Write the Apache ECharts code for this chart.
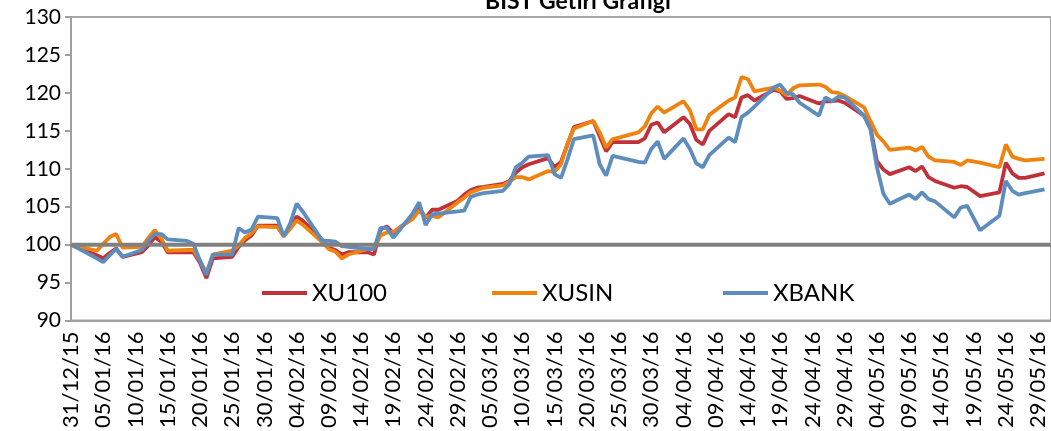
<!DOCTYPE html>
<html>
<head>
<meta charset="utf-8">
<script src="https://cdn.jsdelivr.net/npm/echarts@6/dist/echarts.min.js"></script>
<style>html,body{margin:0;padding:0;background:#fff;}#c{width:1051px;height:431px;}</style>
</head>
<body>
<div id="c"></div>
<script>
const titleText = 'BIST Getiri Grafiği';
const seriesNames = ['XU100', 'XUSIN', 'XBANK'];
const tradeDates = ['31/12/15',
'04/01/16','05/01/16','06/01/16','07/01/16','08/01/16',
'11/01/16','12/01/16','13/01/16','14/01/16','15/01/16',
'18/01/16','19/01/16','20/01/16','21/01/16','22/01/16',
'25/01/16','26/01/16','27/01/16','28/01/16','29/01/16',
'01/02/16','02/02/16','03/02/16','04/02/16','05/02/16',
'08/02/16','09/02/16','10/02/16','11/02/16','12/02/16',
'15/02/16','16/02/16','17/02/16','18/02/16','19/02/16',
'22/02/16','23/02/16','24/02/16','25/02/16','26/02/16',
'29/02/16','01/03/16','02/03/16','03/03/16','04/03/16',
'07/03/16','08/03/16','09/03/16','10/03/16','11/03/16',
'14/03/16','15/03/16','16/03/16','17/03/16','18/03/16',
'21/03/16','22/03/16','23/03/16','24/03/16','25/03/16',
'28/03/16','29/03/16','30/03/16','31/03/16','01/04/16',
'04/04/16','05/04/16','06/04/16','07/04/16','08/04/16',
'11/04/16','12/04/16','13/04/16','14/04/16','15/04/16',
'18/04/16','19/04/16','20/04/16','21/04/16','22/04/16',
'25/04/16','26/04/16','27/04/16','28/04/16','29/04/16',
'02/05/16','03/05/16','04/05/16','05/05/16','06/05/16',
'09/05/16','10/05/16','11/05/16','12/05/16','13/05/16',
'16/05/16','17/05/16','18/05/16','20/05/16',
'23/05/16','24/05/16','25/05/16','26/05/16','27/05/16',
'30/05/16'];

const xu100 = [100,
98.6, 98.2, 98.9, 99.5, 98.4,
99.0, 99.9, 101.0, 100.4, 99.0,
99.0, 99.0, 97.6, 95.6, 98.2,
98.4, 99.7, 100.6, 101.2, 102.5,
102.5, 101.1, 102.4, 103.7, 103.1,
100.6, 99.6, 99.3, 98.7, 99.0,
99.0, 98.7, 102.0, 102.4, 101.5,
103.7, 104.9, 103.5, 104.6, 104.6,
105.8, 106.6, 107.2, 107.5, 107.6,
108.0, 108.4, 109.5, 110.2, 110.6,
111.4, 110.2, 110.9, 113.2, 115.5,
116.3, 114.3, 112.3, 113.5, 113.5,
113.5, 114.0, 115.8, 116.1, 114.8,
116.8, 115.9, 113.8, 113.2, 115.0,
117.2, 116.8, 119.4, 119.7, 119.0,
120.4, 120.2, 119.2, 119.3, 119.6,
118.6, 118.9, 118.9, 119.0, 118.7,
117.0, 115.4, 111.0, 109.9, 109.3,
110.2, 109.7, 110.3, 108.9, 108.4,
107.5, 107.7, 107.6, 106.4,
106.9, 110.8, 109.4, 108.8, 108.8,
109.4];

const xusin = [100,
99.2, 100.1, 101.0, 101.4, 99.6,
99.7, 100.9, 101.9, 100.8, 99.2,
99.3, 99.3, 97.9, 96.3, 98.7,
99.2, 99.9, 100.9, 101.5, 102.4,
102.3, 101.1, 102.1, 103.2, 102.6,
100.3, 99.4, 99.1, 98.2, 98.7,
99.4, 99.5, 101.2, 101.6, 101.7,
103.4, 104.5, 103.7, 103.8, 103.6,
105.6, 106.2, 106.9, 107.2, 107.5,
107.8, 108.3, 108.9, 108.9, 108.6,
109.7, 109.6, 110.6, 113.3, 115.3,
116.3, 114.8, 112.8, 113.9, 114.1,
114.8, 115.6, 117.3, 118.2, 117.4,
118.9, 117.7, 115.2, 115.2, 117.1,
119.0, 119.4, 122.1, 121.8, 120.2,
120.7, 120.3, 119.7, 120.6, 121.0,
121.1, 120.8, 120.1, 120.0, 119.6,
118.1, 116.3, 114.5, 113.6, 112.5,
112.8, 112.4, 112.9, 111.6, 111.1,
110.9, 110.5, 111.1, 110.8,
110.2, 113.2, 111.6, 111.3, 111.1,
111.3];

const xbank = [100,
98.2, 97.7, 98.6, 99.4, 98.4,
99.3, 100.5, 101.4, 101.4, 100.7,
100.5, 100.1, 97.9, 96.0, 98.7,
98.7, 102.2, 101.6, 102.0, 103.7,
103.5, 101.1, 102.8, 105.4, 104.3,
100.5, 100.5, 100.4, 99.8, 99.7,
99.4, 99.4, 102.2, 102.2, 100.9,
104.1, 105.6, 102.6, 104.0, 104.1,
104.4, 104.5, 106.3, 106.6, 106.8,
107.1, 108.0, 110.2, 110.8, 111.6,
111.8, 109.3, 108.8, 111.2, 113.9,
114.4, 110.6, 109.1, 111.7, 111.5,
110.9, 110.8, 112.6, 113.6, 111.3,
114.0, 112.6, 110.7, 110.2, 111.8,
114.1, 113.5, 116.8, 117.4, 118.2,
120.7, 121.1, 120.0, 119.8, 118.7,
117.0, 119.4, 118.9, 119.5, 119.4,
117.0, 115.2, 110.2, 106.7, 105.4,
106.6, 106.0, 106.9, 106.0, 105.7,
103.6, 104.9, 105.1, 101.9,
103.8, 108.4, 107.1, 106.6, 106.8,
107.3];

const baseValue = 100;
const yMin = 90, yMax = 130, yStep = 5;

// calendar-day categories (Excel date axis), 31/12/15 .. 31/05/16
const pad = n => (n < 10 ? '0' : '') + n;
const cats = [];
for (let i = 0; i <= 152; i++) {
  const d = new Date(2015, 11, 31 + i);
  cats.push(pad(d.getDate()) + '/' + pad(d.getMonth() + 1) + '/' + String(d.getFullYear()).slice(2));
}
const idx = new Map(tradeDates.map((t, i) => [t, i]));
const toCal = vals => cats.map(c => idx.has(c) ? vals[idx.get(c)] : null);
const refLine = cats.map((c, i) => (i === 0 || i === cats.length - 1) ? baseValue : null);

const colors = ['#C0313A', '#F0820F', '#5D8DBE'];
const FONT = 'Lato';

const chart = echarts.init(document.getElementById('c'), null, {renderer: 'canvas'});
const mkLegend = (name, left) => ({
  data: [name], left: left, top: 276, icon: 'rect', itemWidth: 45, itemHeight: 4,
  textStyle: {fontSize: 24, color: '#000', fontFamily: FONT}, selectedMode: false
});
chart.setOption({
  animation: false,
  backgroundColor: '#fff',
  title: {text: titleText, left: 480, top: -15, textStyle: {fontSize: 23, fontWeight: 'bold', color: '#000', fontFamily: FONT}},
  legend: [mkLegend(seriesNames[0], 257), mkLegend(seriesNames[1], 487), mkLegend(seriesNames[2], 718)],
  grid: {left: 71, top: 17, bottom: 110, right: -10, show: true, borderColor: '#a6a6a6', borderWidth: 2, containLabel: false},
  xAxis: {
    type: 'category', data: cats, boundaryGap: false,
    axisLine: {lineStyle: {color: '#a0a0a0', width: 2}},
    axisTick: {show: false},
    axisLabel: {interval: 4, rotate: 90, fontSize: 22, color: '#000', fontFamily: FONT, margin: 11}
  },
  yAxis: {
    type: 'value', min: yMin, max: yMax, interval: yStep,
    axisLine: {show: true, lineStyle: {color: '#a0a0a0', width: 2}},
    axisTick: {show: true, length: 6, lineStyle: {color: '#a0a0a0', width: 2}},
    splitLine: {show: false},
    axisLabel: {fontSize: 21, color: '#000', fontFamily: FONT, margin: 10}
  },
  series: [
    {name: seriesNames[0], type: 'line', data: toCal(xu100), connectNulls: true, showSymbol: false, color: colors[0], lineStyle: {width: 3.8}},
    {name: seriesNames[1], type: 'line', data: toCal(xusin), connectNulls: true, showSymbol: false, color: colors[1], lineStyle: {width: 3.8}},
    {name: seriesNames[2], type: 'line', data: toCal(xbank), connectNulls: true, showSymbol: false, color: colors[2], lineStyle: {width: 3.8}},
    {name: 'ref', type: 'line', data: refLine, connectNulls: true, showSymbol: false, silent: true, z: 5, color: '#808080', lineStyle: {width: 4}}
  ]
});
</script>
</body>
</html>
